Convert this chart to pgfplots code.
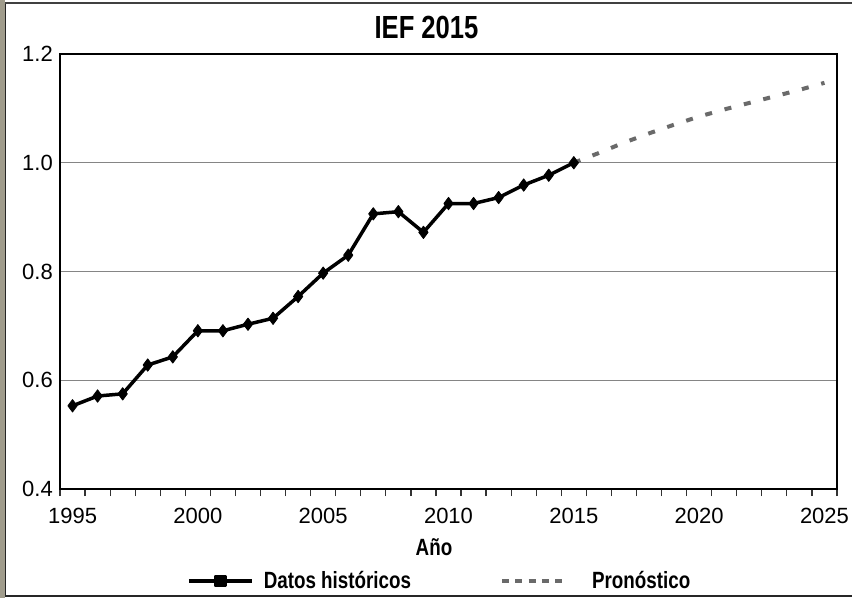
\documentclass[border=0pt]{standalone}
\usepackage{fontspec}
\setmainfont{Liberation Sans}
\newfontfamily\narrowfont{Liberation Sans}[FakeStretch=0.8]
\usepackage{pgfplots}
\pgfplotsset{compat=1.18}
\definecolor{strip}{HTML}{A09C8C}
\definecolor{fcgray}{HTML}{6A6A6A}
\definecolor{gridgray}{HTML}{858585}
\newcommand\tickfont{\fontsize{22}{22}\selectfont}
\newcommand\legfont{\narrowfont\bfseries\fontsize{23.5}{23.5}\selectfont}
\newcommand\titlefont{\narrowfont\bfseries\fontsize{32}{32}\selectfont}

\pgfplotstableread{
year val
1995 0.553
1996 0.571
1997 0.575
1998 0.628
1999 0.643
2000 0.691
2001 0.691
2002 0.703
2003 0.714
2004 0.754
2005 0.797
2006 0.830
2007 0.906
2008 0.910
2009 0.872
2010 0.925
2011 0.925
2012 0.936
2013 0.959
2014 0.977
2015 1.000
}\hist

\pgfplotstableread{
year val
2015 1.000
2016 1.018
2017 1.037
2018 1.054
2019 1.070
2020 1.085
2021 1.098
2022 1.110
2023 1.122
2024 1.134
2025 1.147
}\fcast

\begin{document}
\begin{tikzpicture}
\useasboundingbox (-60pt,-109pt) rectangle (792pt,489pt);
\fill[white] (-60pt,-109pt) rectangle (792pt,489pt);
\fill[strip] (-60pt,-109pt) rectangle (-55pt,489pt);
\draw[line width=1.6pt, black!85] (-54.5pt,-107pt) -- (-54.5pt,486pt);
\draw[line width=1.4pt, black!75] (-54.5pt,486pt) -- (792pt,486pt);
\draw[line width=1.8pt, black!85] (-54.5pt,-107pt) -- (792pt,-107pt);
\begin{axis}[
  at={(0pt,0pt)}, anchor=south west,
  scale only axis, width=777pt, height=435pt,
  xmin=1994.5, xmax=2025.5, ymin=0.4, ymax=1.2,
  xtick={1995,2000,2005,2010,2015,2020,2025},
  xticklabels={1995,2000,2005,2010,2015,2020,2025},
  ytick={0.4,0.6,0.8,1.0,1.2},
  yticklabels={0.4,0.6,0.8,1.0,1.2},
  minor xtick={1994.5,1995.5,...,2025.5},
  major tick length=0pt, minor tick length=7pt,
  tick align=outside, tick pos=left,
  ymajorgrids, major grid style={gridgray, line width=1.3pt},
  axis line style={black, line width=1.3pt},
  minor tick style={black!80, line width=1.2pt},
  ticklabel style={font=\tickfont},
  xticklabel style={inner sep=0pt, anchor=north, yshift=-19pt},
  yticklabel style={inner sep=0pt, anchor=east, xshift=-7pt},
  legend style={draw=none, fill=none, at={(axis description cs:0.16345,-0.2115)},
    anchor=west, legend columns=2, inner sep=0pt, outer sep=0pt,
    nodes={inner sep=0pt, font=\legfont}, font=\legfont,
    /tikz/every even column/.append style={column sep=89pt}},
]
\addplot[fcgray, line width=4pt, dash pattern=on 7pt off 13pt, forget plot]
  table[x=year, y=val] {\fcast};
\addplot[black, line width=3.5pt, line join=round, mark=diamond*, mark size=6.2pt,
  mark options={solid, line width=0.8pt},
  legend image code/.code={%
    \draw[black, line width=3.5pt] (0pt,0pt) -- (63pt,0pt);
    \fill[black] (27pt,-4.5pt) rectangle (36pt,4.5pt);
    \path[draw=none, fill=none] (0pt,-5pt) rectangle (75pt,5pt);}]
  table[x=year, y=val] {\hist};
\addlegendentry{Datos históricos}
\addlegendimage{fcgray, legend image code/.code={%
    \draw[fcgray, line width=4pt, dash pattern=on 7pt off 6.3pt] (0pt,0pt) -- (60pt,0pt);
    \path[draw=none, fill=none] (0pt,-5pt) rectangle (90pt,5pt);}}
\addlegendentry{Pronóstico}
\end{axis}
\node[font=\titlefont] at (366.5pt,462pt) {IEF 2015};
\node[font=\legfont] at (374pt,-58pt) {Año};
\end{tikzpicture}
\end{document}
